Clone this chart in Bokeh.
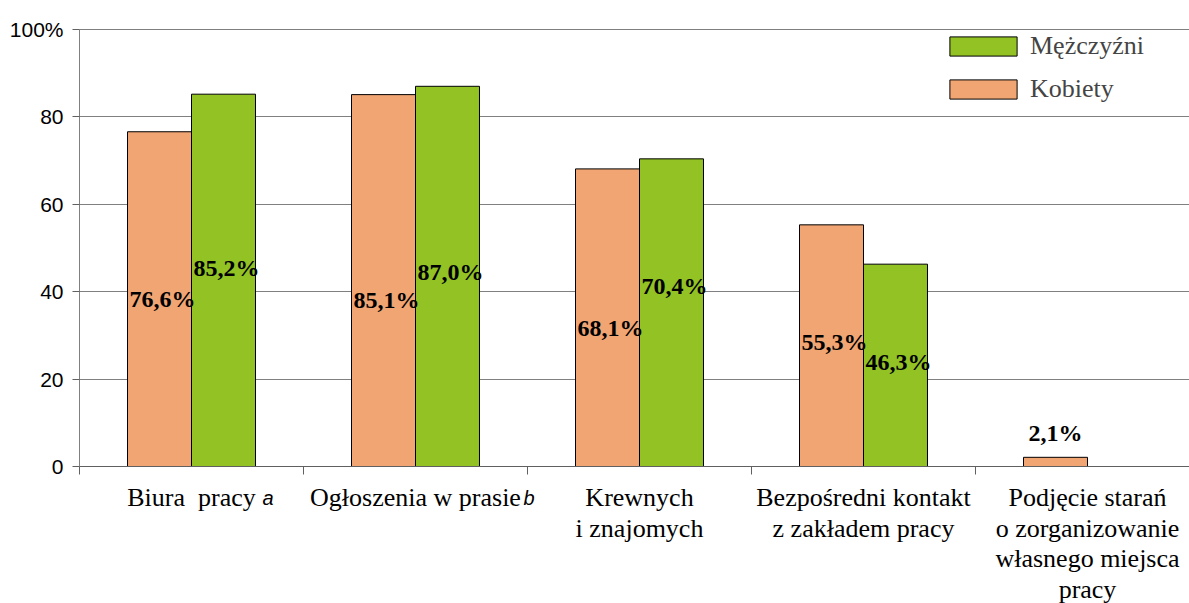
from bokeh.plotting import figure
from bokeh.models import FixedTicker, Span, Legend, LegendItem, ColumnDataSource, Range1d
from bokeh.layouts import column
from bokeh.embed import file_html
from bokeh.resources import INLINE
from bokeh.core.properties import value

# ---- data ----
categories = [
    ["Biura\u00a0\u00a0pracy"],
    ["Ogłoszenia w prasie"],
    ["Krewnych", "i znajomych"],
    ["Bezpośredni kontakt", "z zakładem pracy"],
    ["Podjęcie starań", "o zorganizowanie", "własnego miejsca", "pracy"],
]
footnotes = ["a", "b", "", "", ""]
kobiety = [76.6, 85.1, 68.1, 55.3, 2.1]
mezczyzni = [85.2, 87.0, 70.4, 46.3, None]
# vertical anchor of each value label (in % units, as placed in the original)
label_y_k = [38.4, 38.0, 31.6, 28.4, 7.6]
label_y_m = [45.5, 44.4, 41.4, 23.8, None]
y_ticks = [0, 20, 40, 60, 80, 100]
y_tick_labels = ["0", "20", "40", "60", "80", "100%"]
series_names = ["Mężczyźni", "Kobiety"]

ORANGE = "#F0A573"
GREEN = "#92C224"
SERIF = "Liberation Serif"
SANS = "Liberation Sans"

def fmt(v):
    return f"{v:.1f}".replace(".", ",") + "%"

TOTAL_W = 1189
H1, H2 = 480, 123
LEFT = 79
x_range = Range1d(0, (TOTAL_W - LEFT) / 224.0)

p = figure(width=TOTAL_W, height=H1, x_range=x_range, y_range=Range1d(0, 100),
           output_backend="svg", toolbar_location=None,
           min_border_left=LEFT, min_border_right=0, min_border_top=29, min_border_bottom=14)
p.outline_line_color = None
p.background_fill_color = "white"

# axes
x_bounds = [0, 1, 2, 3, 4, 5]
p.xaxis.ticker = FixedTicker(ticks=x_bounds)
p.xaxis.major_label_overrides = {t: "" for t in x_bounds}
p.xaxis.major_label_standoff = 0
p.xaxis.major_label_text_font_size = "1px"
p.xaxis.major_tick_in = 0
p.xaxis.major_tick_out = 8
p.xaxis.minor_tick_line_color = None
p.xaxis.axis_line_color = "#606060"
p.xaxis.major_tick_line_color = "#606060"

p.yaxis.ticker = FixedTicker(ticks=y_ticks)
p.yaxis.major_label_overrides = {t: l for t, l in zip(y_ticks, y_tick_labels)}
p.yaxis.major_tick_in = 0
p.yaxis.major_tick_out = 7
p.yaxis.minor_tick_line_color = None
p.yaxis.axis_line_color = "#808080"
p.yaxis.major_tick_line_color = "#606060"
p.yaxis.major_label_text_font = SANS
p.yaxis.major_label_text_font_size = "21px"
p.yaxis.major_label_text_color = "black"
p.yaxis.major_label_standoff = 9

p.xgrid.grid_line_color = None
p.ygrid.ticker = FixedTicker(ticks=[20, 40, 60, 80])
p.ygrid.grid_line_color = "#808080"
p.add_layout(Span(location=100, dimension="width", line_color="black", line_width=1))

# bars
bw = 0.2857
n = len(kobiety)
k_src = ColumnDataSource(dict(x=[i + 0.5 - bw / 2 for i in range(n)], top=kobiety))
m_idx = [i for i in range(n) if mezczyzni[i] is not None]
m_src = ColumnDataSource(dict(x=[i + 0.5 + bw / 2 for i in m_idx], top=[mezczyzni[i] for i in m_idx]))
rk = p.vbar(x="x", top="top", width=bw, source=k_src, fill_color=ORANGE, line_color="black", line_width=1)
rm = p.vbar(x="x", top="top", width=bw, source=m_src, fill_color=GREEN, line_color="black", line_width=1)

# value labels
lab_font = dict(text_font=value(SERIF), text_font_style="bold", text_font_size="24px",
                text_baseline="middle", text_color="black")
inside_k = [i for i in range(n) if kobiety[i] > 10]
p.text(x=[i + 0.5 - bw for i in inside_k], y=[label_y_k[i] for i in inside_k],
       text=[fmt(kobiety[i]) for i in inside_k], text_align="left", x_offset=2, **lab_font)
above_k = [i for i in range(n) if kobiety[i] <= 10]
p.text(x=[i + 0.5 - bw / 2 for i in above_k], y=[label_y_k[i] for i in above_k],
       text=[fmt(kobiety[i]) for i in above_k], text_align="center", **lab_font)
p.text(x=[i + 0.5 for i in m_idx], y=[label_y_m[i] for i in m_idx],
       text=[fmt(mezczyzni[i]) for i in m_idx], text_align="left", x_offset=2, **lab_font)

# legend
legend = Legend(items=[LegendItem(label=series_names[0], renderers=[rm]),
                       LegendItem(label=series_names[1], renderers=[rk])],
                location=(862, 362), glyph_width=84, glyph_height=24,
                label_text_font=SERIF, label_text_font_size="26px", label_standoff=5,
                padding=0, margin=0, spacing=13, border_line_color=None,
                background_fill_alpha=0)
p.add_layout(legend)

# category label strip (shares the x scale with the chart)
p2 = figure(width=TOTAL_W, height=H2, x_range=x_range, y_range=Range1d(H2, 0),
            output_backend="svg", toolbar_location=None,
            x_axis_location=None, y_axis_location=None,
            min_border_left=LEFT, min_border_right=0, min_border_top=0, min_border_bottom=0)
p2.outline_line_color = None
p2.grid.visible = False

xs, ys, ts = [], [], []
for i, lines in enumerate(categories):
    for j, line in enumerate(lines):
        xs.append(i + 0.5)
        ys.append(17 + 30.5 * j)
        ts.append(line)
p2.text(x=xs, y=ys, text=ts, text_font=value(SERIF), text_font_size="26px",
        text_align="center", text_baseline="alphabetic", text_color="black")

note_offsets = [71, 108, 0, 0, 0]
fi = [i for i in range(n) if footnotes[i]]
p2.text(x=[i + 0.5 for i in fi], y=[17] * len(fi), text=[footnotes[i] for i in fi],
        x_offset=[note_offsets[i] for i in fi],
        text_font=value(SANS), text_font_style="italic", text_font_size="20px",
        text_align="left", text_baseline="alphabetic", text_color="black")

layout = column(p, p2, spacing=0)
open("out.html", "w").write(file_html(layout, INLINE))
